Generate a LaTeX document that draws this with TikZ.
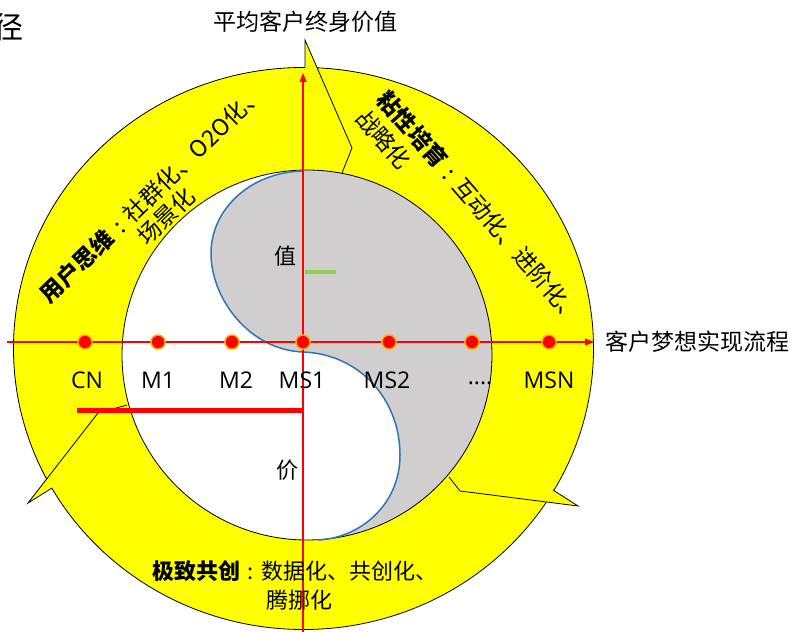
\documentclass[tikz,border=0pt]{standalone}
\usepackage{fontspec}
\setmainfont{Noto Sans CJK SC}
\newfontfamily\lat{Open Sans}
\usetikzlibrary{arrows.meta}
\definecolor{ringyellow}{RGB}{255,255,0}
\definecolor{greyfill}{RGB}{208,206,206}
\definecolor{curveblue}{RGB}{46,117,182}
\definecolor{dotrim}{RGB}{255,170,0}
\definecolor{leafgreen}{RGB}{146,208,80}
\newcommand{\mycolon}{\makebox[1em][c]{:}}
\begin{document}
\begin{tikzpicture}[x=1pt,y=-1pt,
  cjk/.style={font=\fontsize{22}{26}\selectfont, inner sep=0pt},
  biglabel/.style={font=\fontsize{23}{27}\selectfont, inner sep=0pt},
  slant/.style={font=\fontsize{23}{27}\selectfont, inner sep=0pt, anchor=west},
  axislabel/.style={font=\lat\fontsize{23}{27}\selectfont, inner sep=0pt, anchor=base},
  axisline/.style={red, line width=1.3pt, -{Triangle[length=9pt,width=7pt]}},
  ptdot/.style={circle, fill=red, draw=dotrim, line width=1.5pt, minimum size=14pt, inner sep=0pt},
  rimline/.style={black, line width=0.8pt, line join=miter},
]
\useasboundingbox (0,0) rectangle (794,631);

% ring
\coordinate (oc) at (303.5,348.5);
\coordinate (ic) at (307,355);
\fill[ringyellow, even odd rule] (oc) ellipse[x radius=290pt, y radius=281pt] (ic) circle[radius=185pt];
\draw[rimline] (oc) ellipse[x radius=290pt, y radius=281pt];

% arrow heads of the ring
\coordinate (o1) at (305,67.5); \coordinate (t1) at (305,40); \coordinate (k1) at (352,148); \coordinate (i1) at (342,173);
\coordinate (o2) at (553,490); \coordinate (t2) at (578,506); \coordinate (k2) at (460,491); \coordinate (i2) at (449,477);
\coordinate (o3) at (52,488); \coordinate (t3) at (28,503); \coordinate (k3) at (98,413); \coordinate (i3) at (127,405);
\fill[ringyellow] (o1) -- (t1) -- (k1) -- cycle;
\fill[ringyellow] (o2) -- (t2) -- (k2) -- cycle;
\fill[ringyellow] (o3) -- (t3) -- (k3) -- cycle;
\draw[rimline] (i1) -- (k1) -- (t1) -- (o1);
\draw[rimline] (i2) -- (k2) -- (t2) -- (o2);
\draw[rimline] (i3) -- (k3) -- (t3) -- (o3);

% grey half
\begin{scope}
\clip (ic) circle[radius=185pt];
\fill[greyfill] (303,171) .. controls (250,172) and (210,210) .. (211,255)
  .. controls (212,300) and (250,350) .. (303,352)
  .. controls (360,354) and (400,400) .. (400,455)
  .. controls (400,505) and (360,538) .. (318,540)
  -- (318,570) -- (560,570) -- (560,140) -- (303,140) -- cycle;
\end{scope}
\draw[rimline] (ic) circle[radius=185pt];
\draw[curveblue, line width=1.5pt] (303,171) .. controls (250,172) and (210,210) .. (211,255)
  .. controls (212,300) and (250,350) .. (303,352)
  .. controls (360,354) and (400,400) .. (400,455)
  .. controls (400,505) and (360,538) .. (318,540);

% marks
\coordinate (g0) at (305,271.5); \coordinate (g1) at (336,271.5);
\draw[leafgreen, line width=4pt] (g0) -- (g1);
\coordinate (r0) at (77,410.5); \coordinate (r1) at (303,410.5);
\draw[red, line width=4.5pt] (r0) -- (r1);

% axes
\coordinate (hx0) at (7,342); \coordinate (hx1) at (594,342);
\coordinate (vy0) at (303,645); \coordinate (vy1) at (303,73);
\draw[axisline] (hx0) -- (hx1);
\draw[axisline] (vy0) -- (vy1);

% points
\node[ptdot] (d1) at (85,342) {};
\node[ptdot] (d2) at (158,342) {};
\node[ptdot] (d3) at (232,342) {};
\node[ptdot] (d4) at (303,342) {};
\node[ptdot] (d5) at (389,342) {};
\node[ptdot] (d6) at (472,342) {};
\node[ptdot] (d7) at (549,342) {};

\node[axislabel] (lcn) at (87,388) {CN};
\node[axislabel] (lm1) at (158,388) {M1};
\node[axislabel] (lm2) at (236,388) {M2};
\node[axislabel] (lms1) at (302,388) {MS1};
\node[axislabel] (lms2) at (387,388) {MS2};
\node[axislabel] (ldots) at (480,384) {....};
\node[axislabel] (lmsn) at (549,388) {MSN};

% axis titles
\node[biglabel] (ttop) at (305,22) {平均客户终身价值};
\node[biglabel, anchor=west] (tright) at (605,342) {客户梦想实现流程};
\node[inner sep=0pt, anchor=east, font=\fontsize{30}{34}\selectfont] (ttitle) at (24,27) {路径};

\node[cjk] (zhi) at (285,256) {值};
\node[cjk] (jia) at (287,470) {价};

% ring texts
\node[slant, rotate=44] (lt1) at (43.7,298) {\textbf{用户思维}\mycolon 社群化、O2O化、};
\node[slant, rotate=44] (lt2) at (141,240) {场景化};
\node[slant, rotate=-49] (rt1) at (382.5,94.3) {\textbf{粘性培育}\mycolon 互动化、进阶化、};
\node[slant, rotate=-49] (rt2) at (360.6,113.3) {战略化};
\node[cjk] (bt1) at (295,571) {\textbf{极致共创}\mycolon 数据化、共创化、};
\node[cjk] (bt2) at (299,600) {腾挪化};
\end{tikzpicture}
\end{document}
